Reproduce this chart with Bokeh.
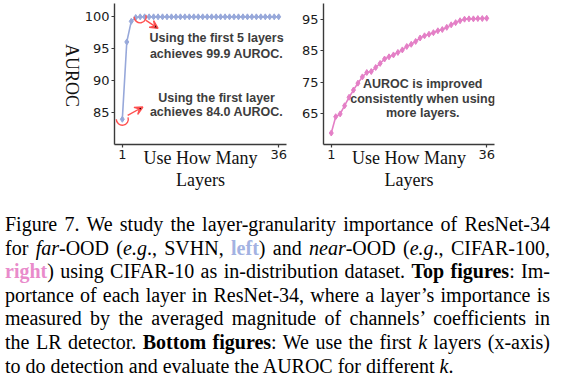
import math
from bokeh.plotting import figure
from bokeh.models import FixedTicker, Arrow, VeeHead, Div, Range1d
from bokeh.layouts import row, column
from bokeh.core.properties import value
from bokeh.embed import file_html
from bokeh.resources import INLINE

# ---------------- data ----------------
layers = list(range(1, 37))
far_ood_auroc = [84.0, 96.0, 99.2, 99.8, 99.9, 99.9, 99.9, 99.9, 99.9, 99.9,
                 99.9, 99.9, 99.9, 99.9, 99.9, 99.9, 99.9, 99.9, 99.9, 99.9,
                 99.9, 99.9, 99.9, 99.9, 99.9, 99.9, 99.9, 99.9, 99.9, 99.9,
                 99.9, 99.9, 99.9, 99.9, 99.9, 99.9]
near_ood_auroc = [58.8, 64.0, 64.9, 67.5, 70.2, 72.5, 74.7, 76.7, 78.1, 78.4,
                  79.7, 81.0, 82.4, 83.1, 83.7, 84.5, 85.3, 86.4, 87.1, 88.0,
                  89.1, 89.8, 90.3, 90.8, 91.4, 91.8, 92.5, 93.3, 94.0, 94.6,
                  95.1, 95.2, 95.2, 95.3, 95.3, 95.4]
x_ticks = [1, 36]
left_y_ticks = [85, 90, 95, 100]
right_y_ticks = [65, 75, 85, 95]

LEFT_COLOR = "#97a8da"
RIGHT_COLOR = "#e47fc6"
ARROW_COLOR = "#ff4f4f"
NOTE_COLOR = "#3d3d3d"
AXIS_COLOR = "#3a3a3a"
SERIF = "Liberation Serif"


def make_fig(width, border_left, border_right, y_lo, y_hi, yticks):
    p = figure(width=width, height=213,
               x_range=Range1d(-0.75, 37.75), y_range=Range1d(y_lo, y_hi),
               output_backend="svg", toolbar_location=None,
               min_border_left=border_left, min_border_right=border_right,
               min_border_top=3, min_border_bottom=69)
    p.outline_line_color = None
    p.grid.visible = False
    p.background_fill_color = "white"
    p.border_fill_color = "white"
    p.xaxis.ticker = FixedTicker(ticks=x_ticks)
    p.yaxis.ticker = FixedTicker(ticks=yticks)
    for ax in (p.xaxis[0], p.yaxis[0]):
        ax.axis_line_color = AXIS_COLOR
        ax.axis_line_width = 1.4
        ax.major_tick_line_color = AXIS_COLOR
        ax.major_tick_line_width = 1.2
        ax.major_tick_out = 3
        ax.major_tick_in = 0
        ax.minor_tick_line_color = None
        ax.major_label_text_font = "DejaVu Sans"
        ax.major_label_text_font_size = "13px"
        ax.major_label_text_color = "#1a1a1a"
    p.yaxis.major_label_standoff = 2
    p.xaxis.major_label_standoff = 2
    p.xaxis.axis_label = "Use How Many\nLayers"
    p.xaxis.axis_label_text_font = SERIF
    p.xaxis.axis_label_text_font_size = "18px"
    p.xaxis.axis_label_text_font_style = "normal"
    p.xaxis.axis_label_text_color = "#111111"
    p.xaxis.axis_label_text_line_height = 1.1
    p.xaxis.axis_label_standoff = -14
    return p


# ---------------- y-axis title (reads top to bottom) ----------------
auroc_title = Div(
    text=("<div style=\"writing-mode:vertical-rl;font-family:'Liberation Serif',serif;"
          "font-size:18px;line-height:18px;color:#111;height:146px;"
          "text-align:center;margin:3px 0 0 63px;padding:0;\">AUROC</div>"),
    width=80, height=213, margin=(0, 0, 0, 0))

# ---------------- left: far-OOD ----------------
p1 = make_fig(212, 34, 6, 80.08, 101.97, left_y_ticks)
p1.line(layers, far_ood_auroc, line_color=LEFT_COLOR, line_width=1.6)
p1.scatter(layers, far_ood_auroc, marker="diamond", size=6,
           fill_color=LEFT_COLOR, line_color=LEFT_COLOR)

# highlighted points: 5th layer and 1st layer
hi_k, lo_k = 5, 1
hi_v, lo_v = far_ood_auroc[hi_k - 1], far_ood_auroc[lo_k - 1]
p1.arc(x=[hi_k, lo_k], y=[hi_v, lo_v], radius=6, radius_units="screen",
       start_angle=math.pi, end_angle=2.1 * math.pi,
       line_color=ARROW_COLOR, line_width=1.4)
p1.add_layout(Arrow(x_start=hi_k + 1.3, y_start=hi_v - 0.55,
                    x_end=hi_k + 4.0, y_end=hi_v - 1.8,
                    line_color=ARROW_COLOR, line_width=1.4,
                    end=VeeHead(size=8, line_color=ARROW_COLOR, line_width=1.4)))
p1.add_layout(Arrow(x_start=lo_k + 1.2, y_start=lo_v + 0.6,
                    x_end=lo_k + 4.6, y_end=lo_v + 1.9,
                    line_color=ARROW_COLOR, line_width=1.4,
                    end=VeeHead(size=8, line_color=ARROW_COLOR, line_width=1.4)))

p1.text(x=[22.1, 22.1, 22.1, 22.1], y=[96.6, 94.2, 87.35, 85.1],
        text=["Using the first 5 layers", "achieves 99.9 AUROC.",
              "Using the first layer", "achieves 84.0 AUROC."],
        text_font=value("Liberation Sans"), text_font_style="bold",
        text_font_size="12.5px", text_color=NOTE_COLOR,
        text_align="center", text_baseline="middle")

# ---------------- right: near-OOD ----------------
p2 = make_fig(274, 31, 72, 55.14, 100.1, right_y_ticks)
p2.line(layers, near_ood_auroc, line_color=RIGHT_COLOR, line_width=1.6)
p2.scatter(layers, near_ood_auroc, marker="diamond", size=6,
           fill_color=RIGHT_COLOR, line_color=RIGHT_COLOR)
p2.text(x=[21.6, 21.6, 21.6], y=[74.5, 69.8, 65.2],
        text=["AUROC is improved", "consistently when using", "more layers."],
        text_font=value("Liberation Sans"), text_font_style="bold",
        text_font_size="12.5px", text_color=NOTE_COLOR,
        text_align="center", text_baseline="middle")

# ---------------- caption ----------------
caption_lines = [
    "Figure 7. We study the layer-granularity importance of ResNet-34",
    "for <i>far</i>-OOD (<i>e.g</i>., SVHN, <b style='color:#a3b2e2'>left</b>) and "
    "<i>near</i>-OOD (<i>e.g</i>., CIFAR-100,",
    "<b style='color:#e98bcb'>right</b>) using CIFAR-10 as in-distribution dataset. "
    "<b>Top figures</b>: Im-",
    "portance of each layer in ResNet-34, where a layer\u2019s importance is",
    "measured by the averaged magnitude of channels\u2019 coefficients in",
    "the LR detector. <b>Bottom figures</b>: We use the first <i>k</i> layers (x-axis)",
    "to do detection and evaluate the AUROC for different <i>k</i>.",
]
inner = "".join(
    "<div style=\"text-align:justify;text-align-last:justify;\">%s</div>" % l
    for l in caption_lines[:-1]
) + "<div style=\"text-align:left;\">%s</div>" % caption_lines[-1]
html = ("<div style=\"font-family:'Liberation Serif',serif;font-size:20px;"
        "line-height:23.6px;color:#000;width:545px;margin:0 0 0 5px;padding:0;\">"
        + inner + "</div>")
cap = Div(text=html, width=566, height=170, margin=(0, 0, 0, 0))

layout = column(row(auroc_title, p1, p2, spacing=0), cap, spacing=0)
open("out.html", "w").write(file_html(layout, INLINE))
